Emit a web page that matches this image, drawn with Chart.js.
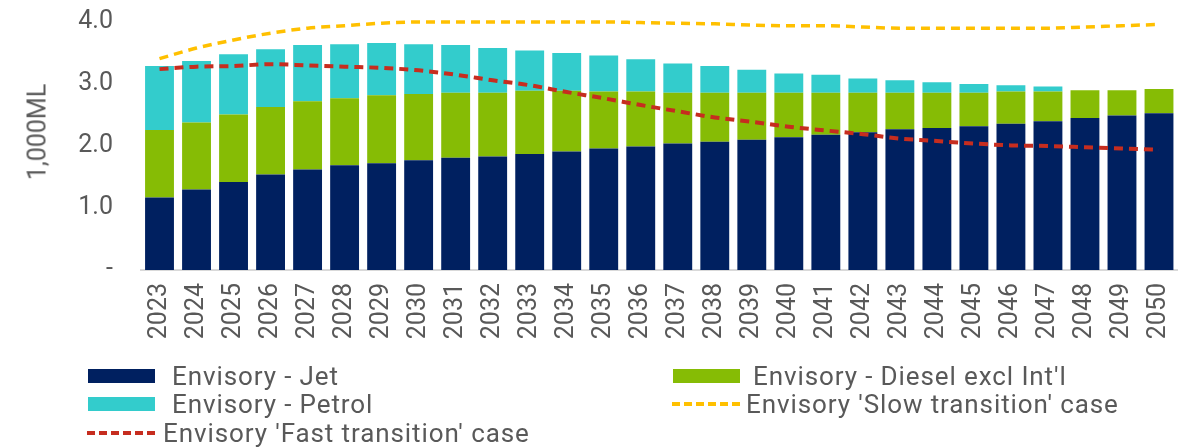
<!DOCTYPE html>
<html>
<head>
<meta charset="utf-8">
<title>Envisory fuel demand</title>
<script src="https://cdn.jsdelivr.net/npm/chart.js@4.4.0/dist/chart.umd.min.js"></script>
<style>
  body { margin: 0; background: #fff; font-family: Roboto, sans-serif; }
  .wrap { position: relative; width: 1183px; height: 448px; overflow: hidden; }
  .ytitle { position: absolute; left: 37px; top: 132px; transform: translate(-50%, -50%) rotate(-90deg);
            font-size: 25px; color: #595959; white-space: nowrap; }
  .leg { position: absolute; font-size: 26px; letter-spacing: 0.9px; color: #595959; white-space: nowrap; line-height: 28px; }
  .leg .box { position: absolute; top: 7px; width: 67px; height: 14px; }
  .leg .dash { position: absolute; top: 12px; width: 68px; height: 0; border-top: 4px dashed; }
</style>
</head>
<body>
<div class="wrap">
  <!-- canvas a bit wider than the page so the last bar sits at the right edge -->
  <canvas id="chart1" width="1192" height="448"></canvas>
  <div class="ytitle">1,000ML</div>

  <!-- legend, two columns like the original -->
  <div class="leg" style="left:88px; top:362px;"><span class="box" style="left:0; background:#002060;"></span><span style="margin-left:84px;">Envisory - Jet</span></div>
  <div class="leg" style="left:673px; top:362px;"><span class="box" style="left:0; background:#86BC05;"></span><span style="margin-left:80px;">Envisory - Diesel excl Int'l</span></div>
  <div class="leg" style="left:88px; top:390px;"><span class="box" style="left:0; background:#33CCCC;"></span><span style="margin-left:84px;">Envisory - Petrol</span></div>
  <div class="leg" style="left:672px; top:390px;"><span class="dash" style="left:0; border-color:#FFC000;"></span><span style="margin-left:74px;">Envisory 'Slow transition' case</span></div>
  <div class="leg" style="left:87px; top:419px;"><span class="dash" style="left:0; border-color:#C62D1F;"></span><span style="margin-left:76px;">Envisory 'Fast transition' case</span></div>
</div>

<script>
  // years
  var years = ['2023','2024','2025','2026','2027','2028','2029','2030','2031','2032','2033','2034','2035','2036',
               '2037','2038','2039','2040','2041','2042','2043','2044','2045','2046','2047','2048','2049','2050'];

  // 1,000ML
  var jet = [1.17,1.30,1.42,1.54,1.62,1.69,1.72,1.77,1.81,1.83,1.87,1.91,1.96,1.99,
             2.04,2.07,2.10,2.14,2.18,2.22,2.27,2.29,2.32,2.36,2.40,2.45,2.49,2.53];
  var diesel = [1.09,1.08,1.09,1.09,1.10,1.08,1.10,1.07,1.05,1.03,1.02,0.98,0.92,0.89,
                0.82,0.79,0.76,0.72,0.68,0.64,0.59,0.57,0.54,0.52,0.48,0.45,0.41,0.39];
  var petrol = [1.03,0.99,0.97,0.93,0.91,0.87,0.84,0.80,0.77,0.72,0.65,0.61,0.58,0.52,
                0.47,0.43,0.37,0.31,0.29,0.23,0.20,0.17,0.14,0.10,0.08,0,0,0];
  var slowCase = [3.41,3.58,3.71,3.82,3.90,3.94,3.98,4.00,4.00,4.00,4.00,4.00,4.00,3.99,
                  3.98,3.97,3.95,3.94,3.94,3.92,3.90,3.90,3.90,3.90,3.90,3.92,3.94,3.96];
  var fastCase = [3.24,3.28,3.29,3.32,3.30,3.28,3.26,3.22,3.15,3.06,2.98,2.87,2.77,2.66,
                  2.56,2.46,2.39,2.31,2.25,2.19,2.12,2.08,2.04,2.01,2.00,1.98,1.96,1.94];

  var yTicks = [0, 1, 2, 3, 4];

  var txt = '#595959';
  var fnt = { family: 'Roboto', size: 25 };

  var ctx1 = document.getElementById("chart1");
  var chart1 = new Chart(ctx1, {
    data: {
      labels: years,
      datasets: [
        { type: 'line', label: "Envisory 'Slow transition' case", data: slowCase, stack: 'slow', order: 0,
          borderColor: '#FFC000', borderWidth: 3.5, borderDash: [9, 6], pointRadius: 0, tension: 0.4,
          cubicInterpolationMode: 'monotone', fill: false, clip: false },
        { type: 'line', label: "Envisory 'Fast transition' case", data: fastCase, stack: 'fast', order: 0,
          borderColor: '#C62D1F', borderWidth: 4, borderDash: [9, 6], pointRadius: 0, tension: 0.4,
          cubicInterpolationMode: 'monotone', fill: false, clip: false },
        { type: 'bar', label: 'Envisory - Jet', data: jet, stack: 'fuel', order: 1, backgroundColor: '#002060' },
        { type: 'bar', label: "Envisory - Diesel excl Int'l", data: diesel, stack: 'fuel', order: 1, backgroundColor: '#86BC05' },
        { type: 'bar', label: 'Envisory - Petrol', data: petrol, stack: 'fuel', order: 1, backgroundColor: '#33CCCC' }
      ]
    },
    options: {
      responsive: false,
      animation: false,
      layout: { padding: { top: 22, right: 0 } },
      plugins: { legend: { display: false }, tooltip: { enabled: false } },
      datasets: { bar: { categoryPercentage: 1, barPercentage: 0.78 } },
      scales: {
        x: {
          stacked: true,
          // tick marks only used as a gap, not drawn
          grid: { display: false, drawTicks: true, tickLength: 10, color: 'rgba(0,0,0,0)' },
          border: { display: true, color: '#D9D9D9', width: 2 },
          ticks: { color: txt, font: fnt, minRotation: 90, maxRotation: 90, padding: 3, autoSkip: false },
          afterFit: function (scale) { scale.height = 178; }
        },
        y: {
          stacked: true,
          min: 0,
          max: 4,
          afterBuildTicks: function (scale) { scale.ticks = yTicks.map(function (v) { return { value: v }; }); },
          grid: { display: false, drawTicks: true, tickLength: 25, color: 'rgba(0,0,0,0)' },
          border: { display: false },
          ticks: {
            color: txt, font: fnt, padding: 3,
            callback: function (v) { return v === 0 ? '-' : v.toFixed(1); }
          },
          afterFit: function (scale) { scale.width = 141; }
        }
      }
    }
  });
</script>
</body>
</html>
